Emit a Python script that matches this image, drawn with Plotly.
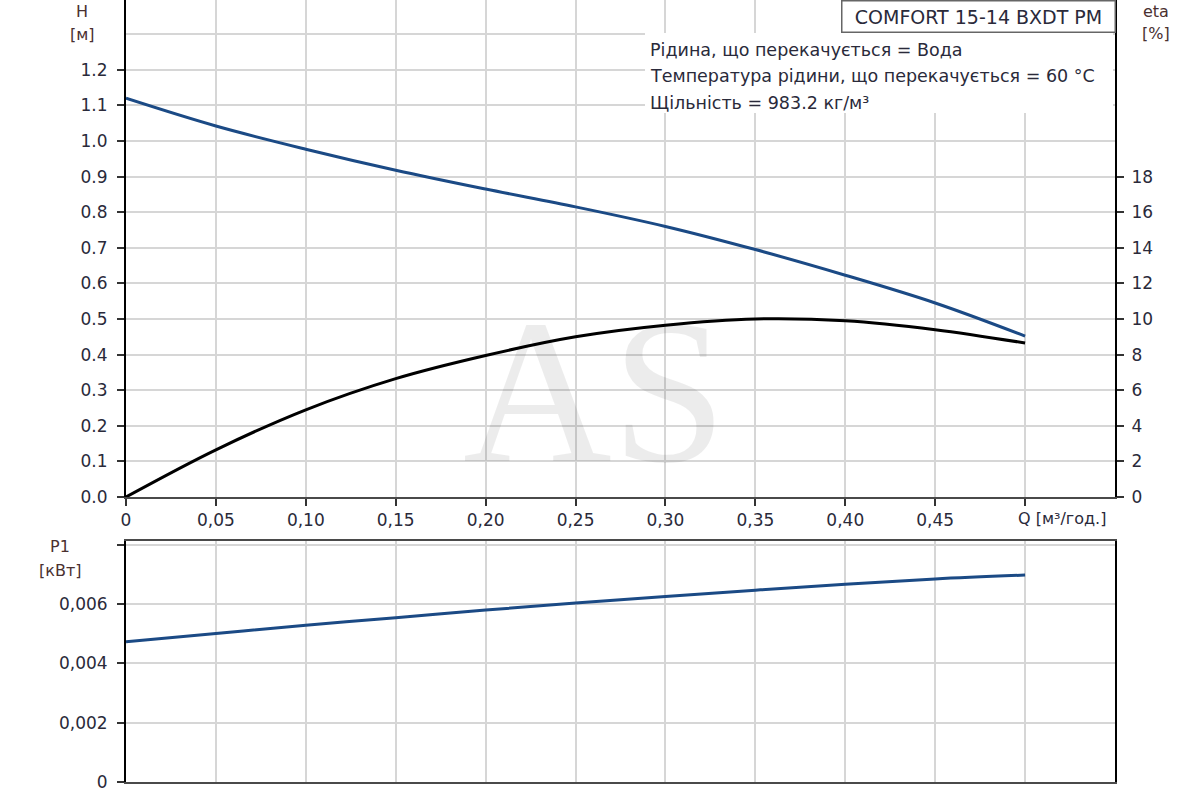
import plotly.graph_objects as go

# flow Q [m3/h]
q = [0, 0.05, 0.10, 0.15, 0.20, 0.25, 0.30, 0.35, 0.40, 0.45, 0.50]
# head H [m]
head = [1.12, 1.042, 0.977, 0.918, 0.865, 0.815, 0.76, 0.695, 0.623, 0.545, 0.452]
# efficiency eta [%]
eta = [0, 2.65, 4.9, 6.65, 7.95, 9.0, 9.65, 10.0, 9.9, 9.4, 8.65]
# power P1 [kW]
p1 = [0.00473, 0.00501, 0.00529, 0.00554, 0.0058, 0.00604, 0.00626, 0.00647, 0.00667, 0.00685, 0.00698]

q_ticks = [0, 0.05, 0.10, 0.15, 0.20, 0.25, 0.30, 0.35, 0.40, 0.45, 0.50]
q_labels = ["0", "0,05", "0,10", "0,15", "0,20", "0,25", "0,30", "0,35", "0,40", "0,45", ""]
h_ticks = [0, 0.1, 0.2, 0.3, 0.4, 0.5, 0.6, 0.7, 0.8, 0.9, 1.0, 1.1, 1.2]
h_labels = ["0.0", "0.1", "0.2", "0.3", "0.4", "0.5", "0.6", "0.7", "0.8", "0.9", "1.0", "1.1", "1.2"]
eta_ticks = [0, 2, 4, 6, 8, 10, 12, 14, 16, 18]
p_ticks = [0, 0.002, 0.004, 0.006, 0.008]
p_labels = ["0", "0,002", "0,004", "0,006", ""]

info_lines = ["Рідина, що перекачується = Вода",
              "Температура рідини, що перекачується = 60 °C",
              "Щільність = 983.2 кг/м³"]

blue = "#1b4a85"
grid = "#d6d6d6"
txt = "#2a2a3a"
W, H = 1200, 800

fig = go.Figure()
fig.add_trace(go.Scatter(x=q, y=head, mode="lines", line=dict(color=blue, width=3, shape="spline"),
                         xaxis="x", yaxis="y", showlegend=False))
fig.add_trace(go.Scatter(x=q, y=eta, mode="lines", line=dict(color="black", width=3, shape="spline"),
                         xaxis="x", yaxis="y2", showlegend=False))
fig.add_trace(go.Scatter(x=q, y=p1, mode="lines", line=dict(color=blue, width=3, shape="spline"),
                         xaxis="x2", yaxis="y3", showlegend=False))

x_dom = [126 / W, 1115 / W]
axis_common = dict(showline=True, linewidth=2, zeroline=False, gridwidth=2, automargin=False,
                   tickfont=dict(color=txt), ticklen=7, tickcolor="#333", tickwidth=2)

fig.update_layout(
    width=W, height=H,
    margin=dict(l=0, r=0, t=0, b=0, autoexpand=False),
    paper_bgcolor="white", plot_bgcolor="white",
    font=dict(family="DejaVu Sans", size=17, color=txt),
    xaxis=dict(domain=x_dom, anchor="y", range=[0, 0.55], tickvals=q_ticks, ticktext=q_labels,
               ticks="outside", linecolor="#4a4a4a", mirror=True, showgrid=True, gridcolor=grid,
               minor=dict(tickvals=[0.55], showgrid=True, gridcolor=grid), **axis_common),
    yaxis=dict(domain=[1 - 497 / H, 1], anchor="x", range=[0, 1.396], tickvals=h_ticks, ticktext=h_labels,
               ticks="outside", linecolor="black", mirror=True, showgrid=True, gridcolor=grid,
               ticklabelstandoff=6,
               minor=dict(tickvals=[1.3], showgrid=True, gridcolor=grid, gridwidth=2), **axis_common),
    yaxis2=dict(overlaying="y", side="right", anchor="x", range=[0, 27.92], tickvals=eta_ticks,
                ticks="outside", linecolor="black", showgrid=False, ticklabelstandoff=4, **axis_common),
    xaxis2=dict(domain=x_dom, anchor="y3", range=[0, 0.55], dtick=0.05, showticklabels=False,
                ticks="", linecolor="#4a4a4a", mirror=True, showgrid=True, gridcolor=grid, **axis_common),
    yaxis3=dict(domain=[1 - 782 / H, 1 - 541 / H], anchor="x2", range=[0, 0.00813], tickvals=p_ticks,
                ticktext=p_labels, ticks="outside", linecolor="black", mirror=True, showgrid=True,
                gridcolor=grid, ticklabelstandoff=6, **axis_common),
)

# white area behind the fluid info text
fig.add_shape(type="rect", xref="paper", yref="paper", x0=645 / W, x1=1113 / W, y0=1 - 113 / H, y1=1 - 33 / H,
              fillcolor="white", line=dict(width=0), layer="above")

# watermark
fig.add_annotation(text="AS", xref="paper", yref="paper", x=594 / W, y=1 - 391 / H, showarrow=False,
                   xanchor="center", yanchor="middle", height=150,
                   font=dict(family="Liberation Serif", size=206, color="rgba(0,0,0,0.075)"))


def label(text, x, y, **kw):
    fig.add_annotation(text=text, xref="paper", yref="paper", x=x / W, y=1 - y / H, showarrow=False,
                       xanchor=kw.pop("xanchor", "center"), yanchor="middle", **kw)


# axis titles
title_font = dict(color="#4a3030", size=16)
label("H", 82, 11, font=title_font)
label("[м]", 82, 35, font=title_font)
label("eta", 1156, 11, font=title_font)
label("[%]", 1156, 33, font=title_font)
label("P1", 60, 546, font=title_font)
label("[кВт]", 60, 570, font=title_font)
fig.add_annotation(text="Q [м³/год.]", x=0.50, xref="x", yref="paper", y=1 - 518 / H, xanchor="left",
                   yanchor="middle", xshift=-9, showarrow=False, font=dict(size=16))

# pump name box
fig.add_annotation(text="COMFORT 15-14 BXDT PM", xref="paper", yref="paper", x=1116 / W, y=1,
                   xanchor="right", yanchor="top", showarrow=False, width=270, height=28,
                   bgcolor="white", bordercolor="#666", borderwidth=1.5, borderpad=1, font=dict(size=19))

# fluid info
for i, line in enumerate(info_lines):
    label(line, 648, 50 + 26.5 * i, xanchor="left", font=dict(size=17.5))

# page has a default 8px body margin, drop it so the figure sits at the window corner
fig.write_html("out.html", config={"displayModeBar": False},
               post_script="document.body.style.margin = '0';")
